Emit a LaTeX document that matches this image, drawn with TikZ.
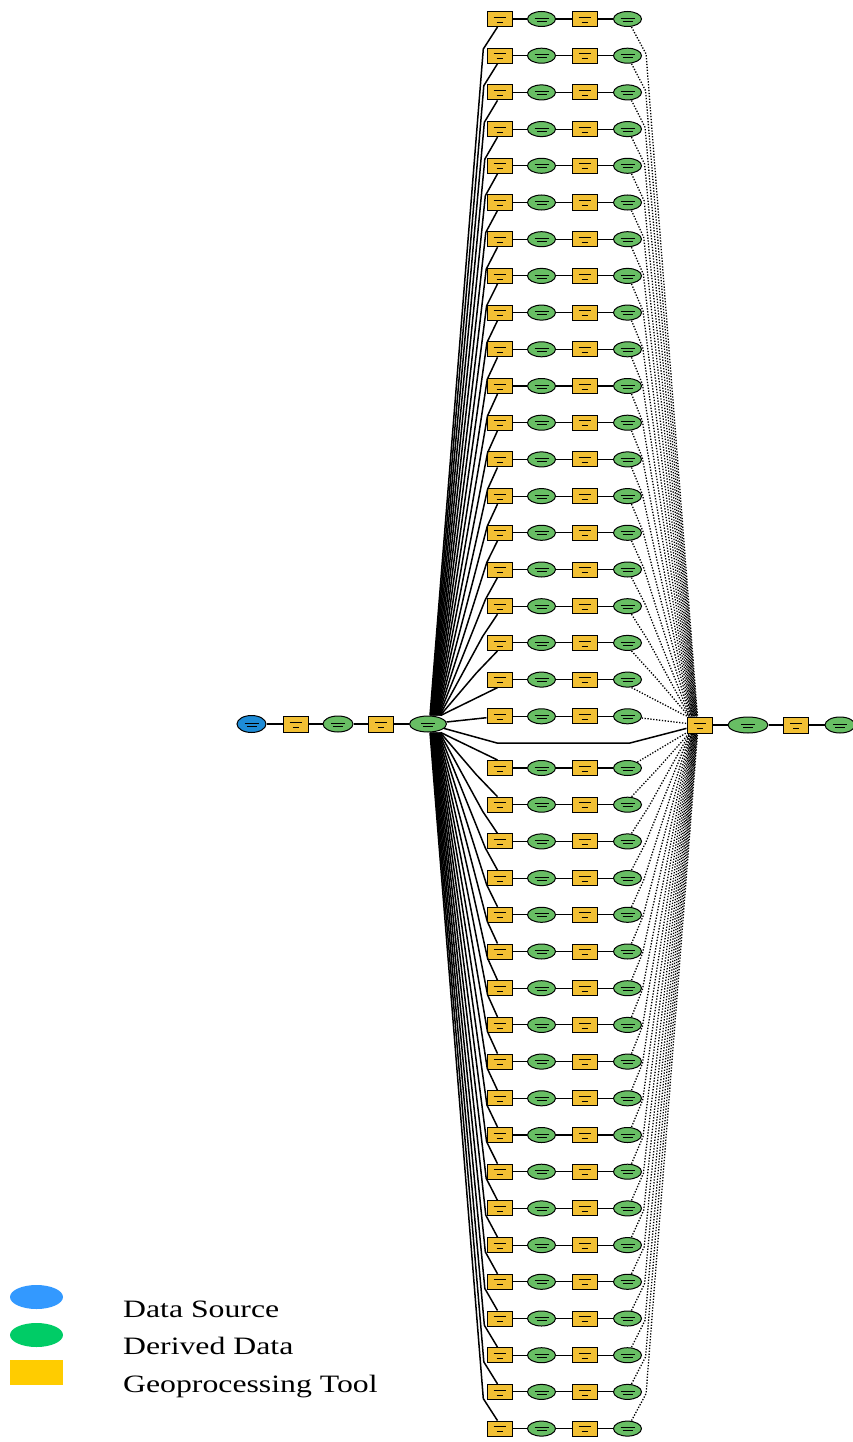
\documentclass[tikz,border=0pt]{standalone}
\usepackage{fontspec}
\setmainfont{Liberation Serif}
\usetikzlibrary{shapes.geometric}
\definecolor{toolY}{RGB}{242,192,52}
\definecolor{derG}{RGB}{104,190,100}
\definecolor{srcB}{RGB}{30,140,215}
\definecolor{legB}{RGB}{51,153,255}
\definecolor{legG}{RGB}{0,204,102}
\definecolor{legY}{RGB}{255,204,0}
\tikzset{
 toolbox/.style={draw=black, line width=1pt, fill=toolY, rectangle, minimum width=25pt, minimum height=15pt, inner sep=0pt,
   path picture={\draw[line width=0.7pt] ([xshift=-6pt,yshift=2pt]path picture bounding box.center) -- ++(12pt,0pt);
                 \draw[line width=0.7pt] ([xshift=-3pt,yshift=-3pt]path picture bounding box.center) -- ++(6pt,0pt);}},
 dataell/.style={draw=black, line width=1pt, fill=derG, ellipse, minimum width=28pt, minimum height=15pt, inner sep=0pt,
   path picture={\draw[line width=0.7pt] ([xshift=-7pt,yshift=1pt]path picture bounding box.center) -- ++(14pt,0pt);
                 \draw[line width=0.7pt] ([xshift=-5pt,yshift=-2pt]path picture bounding box.center) -- ++(10pt,0pt);}},
 srcell/.style={dataell, fill=srcB},
 link/.style={draw=black, line width=1.1pt},
 feed/.style={draw=black, line width=1.5pt},
 gather/.style={draw=black, line width=1.3pt, dash pattern=on 1.3pt off 1.6pt},
 legtext/.style={anchor=base west, inner sep=0pt, font=\fontsize{25}{30}\selectfont},
 legshape/.style={draw=none, minimum width=53pt, minimum height=24pt, inner sep=0pt},
}
\begin{document}
\begin{tikzpicture}[x=1pt,y=-1pt]
\useasboundingbox (0,0) rectangle (853,1442);
% central chain
\node[srcell, minimum width=29pt, minimum height=17pt] (src) at (251.5,724) {};
\node[toolbox, minimum height=16pt] (m1) at (295.5,724) {};
\node[dataell, minimum width=30pt, minimum height=16pt] (m2) at (338,724) {};
\node[toolbox, minimum height=16pt] (m3) at (381,724) {};
\node[dataell, minimum width=37pt, minimum height=16pt] (cen) at (428,724) {};
\draw[link] (src) -- (m1) -- (m2) -- (m3) -- (cen);
% right chain
\node[toolbox, minimum height=16pt] (rt) at (699.5,725) {};
\node[dataell, minimum width=40pt, minimum height=16pt] (re1) at (748,725) {};
\node[toolbox, minimum height=16pt] (rt2) at (796,725) {};
\node[dataell, minimum width=30pt, minimum height=16pt] (re2) at (840,725) {};
\draw[link] (rt) -- (re1) -- (rt2) -- (re2);
% upper rows
\foreach \k in {0,...,19}{
  \pgfmathsetmacro\yy{19+36.7*\k}
  \node[toolbox] (ta\k) at (499.5,\yy) {};
  \node[dataell] (ea\k) at (541.5,\yy) {};
  \node[toolbox] (tb\k) at (584.5,\yy) {};
  \node[dataell] (eb\k) at (627.5,\yy) {};
  \draw[link] (ta\k) -- (ea\k) -- (tb\k) -- (eb\k);
}
% lower rows
\foreach \j in {0,...,18}{
  \pgfmathsetmacro\yy{768+36.7*\j}
  \node[toolbox] (tc\j) at (499.5,\yy) {};
  \node[dataell] (ec\j) at (541.5,\yy) {};
  \node[toolbox] (td\j) at (584.5,\yy) {};
  \node[dataell] (ed\j) at (627.5,\yy) {};
  \draw[link] (tc\j) -- (ec\j) -- (td\j) -- (ed\j);
}
% fan connectors, upper
\foreach \k in {0,...,18}{
  \pgfmathsetmacro\yy{19+36.7*\k}
  \pgfmathsetmacro\dd{12*(724-\yy)/705}
  \pgfmathsetmacro\sx{0.6*\k}
  \pgfmathsetmacro\ex{2+0.5*\k}
  \pgfmathsetmacro\yb{\yy+30}
  \pgfmathsetmacro\tl{(716-\yb)/(716-\yy-7.5)}
  \pgfmathsetmacro\xl{430+\sx+(67.5-\sx)*\tl-\dd}
  \pgfmathsetmacro\yc{\yy+35}
  \pgfmathsetmacro\tr{(\yc-\yy-7.5)/(717-\yy-7.5)}
  \pgfmathsetmacro\xr{631.5+(68-\ex-631.5+630)*\tr+\dd}
  \coordinate (bl\k) at (\xl,\yb);
  \coordinate (br\k) at (\xr,\yc);
  \draw[feed] ([xshift=2pt+\sx pt]cen.north) -- (bl\k) -- ([xshift=-2pt]ta\k.south);
  \draw[gather] ([xshift=4pt]eb\k.south) -- (br\k) -- ([xshift=-\ex pt]rt.north);
}
\draw[feed] (cen) -- (ta19);
\draw[gather] (eb19) -- (rt);
% fan connectors, lower
\foreach \j in {0,...,18}{
  \pgfmathsetmacro\yy{768+36.7*\j}
  \pgfmathsetmacro\dd{12*(\yy-724)/705}
  \pgfmathsetmacro\sx{0.6*(18-\j)}
  \pgfmathsetmacro\yb{\yy-30}
  \pgfmathsetmacro\tl{(\yb-732)/(\yy-7.5-732)}
  \pgfmathsetmacro\xl{430+\sx+(67.5-\sx)*\tl-\dd}
  \coordinate (cl\j) at (\xl,\yb);
  \draw[feed] ([xshift=2pt+\sx pt]cen.south) -- (cl\j) -- ([xshift=-2pt]tc\j.north);
}
\foreach \j in {1,...,18}{
  \pgfmathsetmacro\yy{768+36.7*\j}
  \pgfmathsetmacro\dd{12*(\yy-724)/705}
  \pgfmathsetmacro\ex{2+0.5*(18-\j)}
  \pgfmathsetmacro\yc{\yy-35}
  \pgfmathsetmacro\tr{(\yy-7.5-\yc)/(\yy-7.5-733)}
  \pgfmathsetmacro\xr{631.5+(68-\ex-631.5+630)*\tr+\dd}
  \coordinate (cr\j) at (\xr,\yc);
  \draw[gather] ([xshift=4pt]ed\j.north) -- (cr\j) -- ([xshift=-\ex pt]rt.south);
}
\draw[gather] (ed0) -- (rt);
% direct link
\coordinate (d1) at (497,743);
\coordinate (d2) at (630,743);
\draw[feed] (cen) -- (d1) -- (d2) -- (rt);
% legend
\node[legshape, ellipse, fill=legB] (lg1) at (36.5,1297) {};
\node[legshape, ellipse, fill=legG] (lg2) at (36.5,1335) {};
\node[legshape, rectangle, minimum height=25pt, fill=legY] (lg3) at (36.5,1372.5) {};
\node[legtext] (lt1) at (123,1317) {\scalebox{1.27}[1]{Data Source}};
\node[legtext] (lt2) at (123,1354) {\scalebox{1.27}[1]{Derived Data}};
\node[legtext] (lt3) at (123,1392) {\scalebox{1.27}[1]{Geoprocessing Tool}};
\end{tikzpicture}
\end{document}
